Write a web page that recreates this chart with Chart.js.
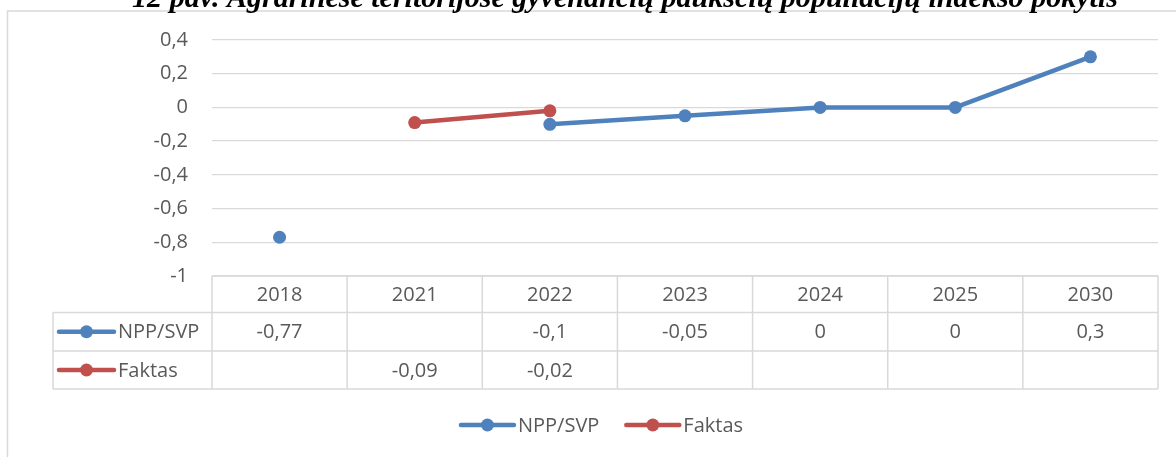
<!DOCTYPE html>
<html><head><meta charset="utf-8">
<script src="https://cdn.jsdelivr.net/npm/chart.js@4"></script>
<style>html,body{margin:0;padding:0;background:#fff;overflow:hidden}canvas{display:block}</style>
</head><body>
<canvas id="c" width="1176" height="457"></canvas>
<script>
const titleText = "12 pav. Agrarinėse teritorijose gyvenančių paukščių populiacijų indekso pokytis";
const categories = ["2018", "2021", "2022", "2023", "2024", "2025", "2030"];
const nppSvp = [-0.77, null, -0.1, -0.05, 0, 0, 0.3];
const faktas = [null, -0.09, -0.02, null, null, null, null];
const seriesNames = ["NPP/SVP", "Faktas"];
const yMin = -1, yMax = 0.4, yStep = 0.2;

const seriesColors = ["#4F81BD", "#C0504D"];
const FONT = "'Open Sans', sans-serif";
const TXT = "#595959";
const GRID = "#d9d9d9";

function fmt(v) {
  if (v === null || v === undefined) return "";
  const r = Math.round(v * 100) / 100;
  return String(r).replace(".", ",");
}

function drawKey(ctx, x1, x2, y, color) {
  ctx.save();
  ctx.strokeStyle = color; ctx.lineWidth = 4.5; ctx.lineCap = "round";
  ctx.beginPath(); ctx.moveTo(x1, y); ctx.lineTo(x2, y); ctx.stroke();
  ctx.fillStyle = color;
  ctx.beginPath(); ctx.arc((x1 + x2) / 2, y, 6.5, 0, Math.PI * 2); ctx.fill();
  ctx.restore();
}

const decor = {
  id: "decor",
  beforeDraw(chart) {
    const ctx = chart.ctx;
    ctx.save();
    // outer frame
    ctx.strokeStyle = GRID; ctx.lineWidth = 1.5;
    ctx.beginPath(); ctx.moveTo(7.5, 470); ctx.lineTo(7.5, 11); ctx.lineTo(1190, 11); ctx.stroke();
    // title (cut off at top)
    let size = 24;
    ctx.font = "bold italic " + size + "px 'Liberation Serif', 'Times New Roman', serif";
    const w = ctx.measureText(titleText).width;
    size = size * 986 / w;
    ctx.font = "bold italic " + size.toFixed(2) + "px 'Liberation Serif', 'Times New Roman', serif";
    ctx.fillStyle = "#000"; ctx.textAlign = "center"; ctx.textBaseline = "alphabetic";
    ctx.fillText(titleText, 625, 7);
    ctx.restore();
  },
  afterDraw(chart) {
    const ctx = chart.ctx, a = chart.chartArea, xs = chart.scales.x;
    const n = categories.length;
    const colW = (a.right - a.left) / n;
    const top = a.bottom, r1 = top + 36.5, r2 = top + 75, bot = top + 113;
    const legL = 53;
    ctx.save();
    ctx.strokeStyle = GRID; ctx.lineWidth = 1.5;
    ctx.beginPath();
    ctx.moveTo(a.left, top); ctx.lineTo(a.right, top);
    [r1, r2, bot].forEach(y => { ctx.moveTo(legL, y); ctx.lineTo(a.right, y); });
    for (let i = 0; i <= n; i++) {
      const x = a.left + i * colW;
      ctx.moveTo(x, top); ctx.lineTo(x, bot);
    }
    ctx.moveTo(legL, r1); ctx.lineTo(legL, bot);
    ctx.stroke();

    ctx.fillStyle = TXT; ctx.font = "20px " + FONT;
    ctx.textAlign = "center"; ctx.textBaseline = "middle";
    const rowsData = [nppSvp, faktas];
    categories.forEach((c, i) => {
      const cx = xs.getPixelForValue(i);
      ctx.fillText(c, cx, (top + r1) / 2 + 1);
      rowsData.forEach((d, k) => {
        const ry = k === 0 ? (r1 + r2) / 2 + 1 : (r2 + bot) / 2 + 1;
        ctx.fillText(fmt(d[i]), cx, ry);
      });
    });
    // row keys
    ctx.textAlign = "left";
    seriesNames.forEach((s, k) => {
      const ry = k === 0 ? (r1 + r2) / 2 : (r2 + bot) / 2;
      drawKey(ctx, 59, 114, ry, seriesColors[k]);
      ctx.fillStyle = TXT;
      ctx.fillText(s, 118, ry + 1);
    });

    // bottom legend
    const ly = 425, keyW = 55, gap = 4, itemGap = 25;
    const widths = seriesNames.map(s => keyW + gap + ctx.measureText(s).width);
    const total = widths.reduce((p, q) => p + q, 0) + itemGap * (seriesNames.length - 1);
    let x = 601 - total / 2;
    seriesNames.forEach((s, k) => {
      drawKey(ctx, x + 2, x + keyW, ly, seriesColors[k]);
      ctx.fillStyle = TXT;
      ctx.fillText(s, x + keyW + gap, ly + 1);
      x += widths[k] + itemGap;
    });
    ctx.restore();
  }
};

const ds = (label, data, color) => ({
  label, data,
  borderColor: color, backgroundColor: color,
  borderWidth: 4.5, borderCapStyle: "round", borderJoinStyle: "round",
  pointRadius: 6.5, pointHoverRadius: 6.5, pointBorderWidth: 0,
  pointBackgroundColor: color, spanGaps: false, tension: 0
});

new Chart(document.getElementById("c"), {
  type: "line",
  data: {
    labels: categories,
    datasets: [ds(seriesNames[1], faktas, seriesColors[1]), ds(seriesNames[0], nppSvp, seriesColors[0])]
  },
  options: {
    responsive: false, animation: false, devicePixelRatio: 1,
    layout: { padding: { top: 40, right: 18, bottom: 181, left: 0 } },
    plugins: { legend: { display: false }, tooltip: { enabled: false }, title: { display: false } },
    scales: {
      x: { type: "category", display: false, offset: true },
      y: {
        min: yMin, max: yMax,
        afterFit(s) { s.width = 212; },
        border: { display: false },
        grid: { color: GRID, lineWidth: 1.3, drawTicks: false },
        ticks: {
          stepSize: yStep, padding: 24, color: TXT,
          font: { family: FONT, size: 20 },
          callback: v => fmt(Math.round(v * 10) / 10)
        }
      }
    }
  },
  plugins: [decor]
});
</script>
</body></html>
